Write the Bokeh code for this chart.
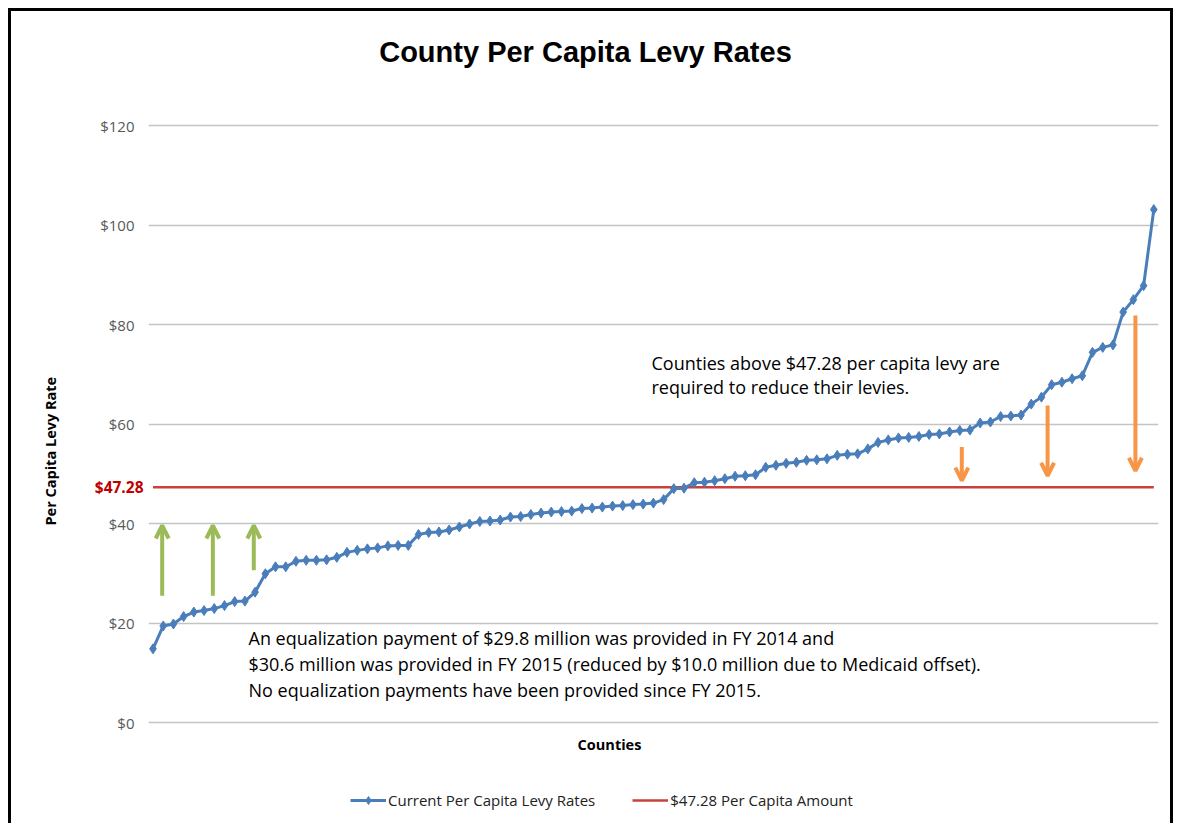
from bokeh.plotting import figure
from bokeh.models import (Label, Arrow, OpenHead, Legend, LegendItem, Title,
                          FixedTicker, Range1d, LinearAxis, PrintfTickFormatter)
from bokeh.embed import file_html
from bokeh.resources import INLINE

# ---------------- data ----------------
rates = [14.8, 19.4, 19.8, 21.3, 22.2, 22.5, 22.9, 23.5, 24.3, 24.4,
         26.2, 29.9, 31.3, 31.3, 32.4, 32.6, 32.6, 32.7, 33.2, 34.2,
         34.6, 34.9, 35.1, 35.5, 35.6, 35.6, 37.8, 38.2, 38.3, 38.7,
         39.3, 39.9, 40.4, 40.5, 40.7, 41.3, 41.4, 41.8, 42.1, 42.3,
         42.4, 42.5, 43.0, 43.1, 43.3, 43.5, 43.6, 43.8, 43.9, 44.1,
         44.8, 47.0, 47.1, 48.2, 48.3, 48.6, 49.0, 49.5, 49.6, 49.8,
         51.3, 51.7, 52.1, 52.3, 52.7, 52.8, 53.0, 53.7, 53.9, 54.0,
         55.0, 56.3, 56.8, 57.2, 57.3, 57.5, 57.9, 58.0, 58.4, 58.7,
         58.8, 60.2, 60.4, 61.5, 61.6, 61.8, 64.0, 65.4, 67.9, 68.4,
         69.1, 69.7, 74.4, 75.4, 75.9, 82.5, 85.0, 87.8, 103.1]
counties = list(range(1, len(rates) + 1))
threshold = 47.28
y_ticks = [0, 20, 40, 60, 80, 100, 120]
y_tick_labels = ["$0", "$20", "$40", "$60", "$80", "$100", "$120"]

title_text = "County Per Capita Levy Rates"
y_title = "Per Capita Levy Rate"
x_title = "Counties"
series_name = "Current Per Capita Levy Rates"
threshold_name = "$47.28 Per Capita Amount"
note_above = ["Counties above $47.28 per capita levy are",
              "required to reduce their levies."]
note_below = ["An equalization payment of $29.8 million was provided in FY 2014 and",
              "$30.6 million was provided in FY 2015 (reduced by $10.0 million due to Medicaid offset).",
              "No equalization payments have been provided since FY 2015."]

# annotation arrows: (x_start, y_start, x_end, y_end) in data units
up_arrows = [(1.9, 25.5, 1.9, 39.6), (6.86, 25.5, 6.86, 39.6), (10.87, 30.6, 10.87, 39.6)]
down_arrows = [(80.2, 55.4, 80.2, 48.6), (88.6, 63.7, 88.6, 49.6), (97.2, 81.8, 97.2, 50.6)]

# ---------------- layout ----------------
W, H = 1180, 823
FL, FR, FT, FB = 148, 1158, 0, H         # frame edges in px
PX_PER_UNIT = (722 - 125) / 120.0          # $0 at 722 px, $120 at 125 px
X0, X1 = 0.56, 99.46
Y0 = -(FB - 722) / PX_PER_UNIT
Y1 = 120 + (125 - FT) / PX_PER_UNIT

def xd(px):
    return X0 + (px - FL) * (X1 - X0) / (FR - FL)

def yd(py):
    return Y0 + (FB - py) * (Y1 - Y0) / (FB - FT)

BLUE = "#4a7ebb"
RED = "#c9403c"
FONT = "Open Sans"

p = figure(width=W, height=H, x_range=Range1d(X0, X1), y_range=Range1d(Y0, Y1),
           output_backend="svg", toolbar_location=None, title=None,
           min_border_left=FL, min_border_right=W - FR,
           min_border_top=0, min_border_bottom=0)
p.outline_line_color = None
p.background_fill_color = None
p.border_fill_color = None
p.styles = {
    "background-color": "white",
    "box-shadow": ("inset 8px 0 0 0 #fff, inset 0 8px 0 0 #fff, inset -7px 0 0 0 #fff, "
                   "inset 11px 0 0 0 #000, inset 0 11px 0 0 #000, inset -10px 0 0 0 #000"),
}

p.xaxis.visible = False
p.xgrid.visible = False
p.ygrid.grid_line_color = "#c4c4c4"
p.ygrid.grid_line_width = 1.5

yax = p.yaxis[0]
yax.ticker = FixedTicker(ticks=y_ticks)
yax.major_label_overrides = {t: l for t, l in zip(y_ticks, y_tick_labels)}
yax.axis_line_color = None
yax.major_tick_line_color = None
yax.major_tick_out = 0
yax.major_tick_in = 0
yax.minor_tick_line_color = None
yax.major_label_standoff = 14
yax.major_label_text_font = FONT
yax.major_label_text_font_size = "15px"
yax.major_label_text_color = "#595959"

# red threshold tick label on its own axis
tax = LinearAxis(ticker=FixedTicker(ticks=[threshold]),
                 formatter=PrintfTickFormatter(format="$%.2f"),
                 axis_line_color=None, major_tick_line_color=None,
                 major_tick_out=0, major_tick_in=0, minor_tick_line_color=None,
                 major_label_standoff=-46, major_label_text_font=FONT,
                 major_label_text_font_size="15.5px", major_label_text_font_style="bold",
                 major_label_text_color="#c00000")
p.add_layout(tax, "left")

# y-axis title
p.add_layout(Title(text=y_title, align="left", offset=298, standoff=64,
                   text_font=FONT, text_font_size="14.5px", text_font_style="bold",
                   text_color="black"), "left")

red_r = p.line([counties[0], counties[-1]], [threshold, threshold],
               line_color=RED, line_width=2.5)
line_r = p.line(counties, rates, line_color=BLUE, line_width=3)
pts_r = p.scatter(counties, rates, marker="diamond", size=10,
                  fill_color=BLUE, line_color=BLUE)

for xs, ys, xe, ye in up_arrows:
    p.add_layout(Arrow(end=OpenHead(size=13, line_color="#9bbb59", line_width=4),
                       x_start=xs, y_start=ys, x_end=xe, y_end=ye,
                       line_color="#9bbb59", line_width=4))
for xs, ys, xe, ye in down_arrows:
    p.add_layout(Arrow(end=OpenHead(size=13, line_color="#f79646", line_width=4),
                       x_start=xs, y_start=ys, x_end=xe, y_end=ye,
                       line_color="#f79646", line_width=4))

def lab(text, px, py, size, align="left", bold=False, font=FONT):
    p.add_layout(Label(x=xd(px), y=yd(py), text=text, text_align=align,
                       text_baseline="middle", text_font=font,
                       text_font_size=f"{size}px",
                       text_font_style="bold" if bold else "normal",
                       text_color="black"))

lab(title_text, 585, 51, 29, align="center", bold=True, font="Liberation Sans")
lab(x_title, 609, 744, 14.5, align="center", bold=True)
for i, t in enumerate(note_above):
    lab(t, 651, 362 + 24.5 * i, 18)
for i, t in enumerate(note_below):
    lab(t, 248, 637.5 + 26 * i, 18)

legend = Legend(items=[LegendItem(label=series_name, renderers=[line_r, pts_r]),
                       LegendItem(label=threshold_name, renderers=[red_r])],
                orientation="horizontal", location=(202, 13),
                glyph_width=36, glyph_height=20, label_standoff=2, spacing=37,
                padding=0, margin=0, label_text_font=FONT,
                label_text_font_size="15px", label_text_color="#222222",
                background_fill_alpha=0, border_line_alpha=0)
p.add_layout(legend)

open("out.html", "w").write(file_html(p, INLINE))
